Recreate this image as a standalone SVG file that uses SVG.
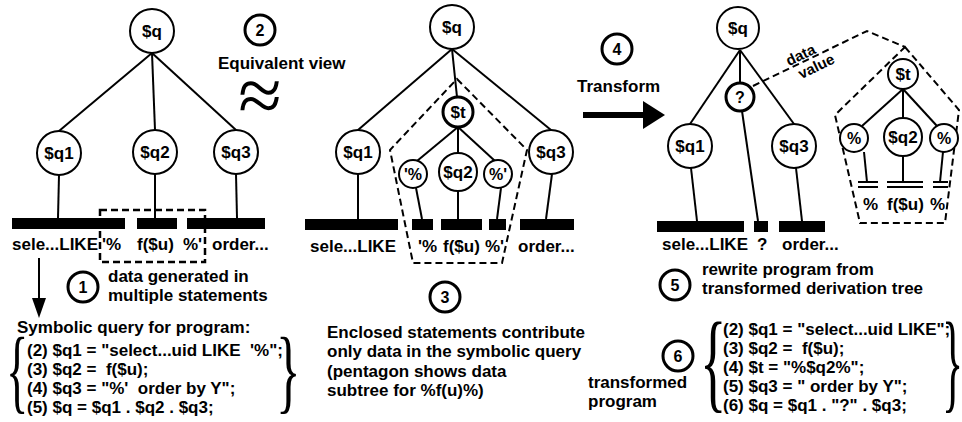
<svg xmlns="http://www.w3.org/2000/svg" width="962" height="422" viewBox="0 0 962 422">
<style>
text{font-family:"Liberation Sans",Arial,sans-serif;font-weight:bold;font-size:17px;fill:#000;white-space:pre}
.m{text-anchor:middle}
.n circle{fill:#fff;stroke:#000;stroke-width:2}
.k circle{stroke-width:3}
.s{font-size:16px}
#connectors line{stroke:#000;stroke-width:2;fill:none}
.d{fill:none;stroke:#000;stroke-width:2;stroke-dasharray:7 4}
.bar{fill:#000}
.br{font-family:"Liberation Serif","Times New Roman",serif;font-weight:normal}
.b1{font-size:93px}
.b2{font-size:110px}
.ap{font-size:66px}
.dv{font-size:15px}
</style>
<rect width="962" height="422" fill="#fff"/>

<g id="connectors">
<line x1="152" y1="53" x2="59" y2="131"/>
<line x1="152" y1="53" x2="155" y2="130"/>
<line x1="152" y1="53" x2="236" y2="130"/>
<line x1="59" y1="175" x2="58" y2="218"/>
<line x1="155" y1="174" x2="155" y2="218"/>
<line x1="236" y1="174" x2="237" y2="218"/>
<line x1="452" y1="49" x2="358" y2="130"/>
<line x1="452" y1="49" x2="457" y2="97"/>
<line x1="452" y1="49" x2="551" y2="130"/>
<line x1="458" y1="127" x2="417" y2="161"/>
<line x1="458" y1="127" x2="458" y2="153"/>
<line x1="458" y1="127" x2="495" y2="161"/>
<line x1="358" y1="174" x2="358" y2="219"/>
<line x1="416" y1="188" x2="422" y2="219"/>
<line x1="458" y1="191" x2="458" y2="219"/>
<line x1="501" y1="188" x2="497" y2="219"/>
<line x1="552" y1="174" x2="546" y2="219"/>
<line x1="740" y1="50" x2="690" y2="124"/>
<line x1="740" y1="50" x2="740" y2="83"/>
<line x1="740" y1="50" x2="794" y2="124"/>
<line x1="691" y1="168" x2="697" y2="221"/>
<line x1="742" y1="111" x2="758" y2="221"/>
<line x1="796" y1="168" x2="802" y2="221"/>
<line x1="903" y1="89" x2="862" y2="126"/>
<line x1="903" y1="89" x2="903" y2="118"/>
<line x1="903" y1="89" x2="937" y2="126"/>
<line x1="864" y1="152" x2="867" y2="182"/>
<line x1="903" y1="156" x2="903" y2="182"/>
<line x1="943" y1="152" x2="940" y2="182"/>
<line x1="858" y1="182" x2="878" y2="182"/>
<line x1="858" y1="187" x2="878" y2="187"/>
<line x1="887" y1="182" x2="923" y2="182"/>
<line x1="887" y1="187" x2="923" y2="187"/>
<line x1="933" y1="182" x2="948" y2="182"/>
<line x1="933" y1="187" x2="948" y2="187"/>
<line x1="39" y1="258" x2="39" y2="300"/>
<line x1="583" y1="115" x2="645" y2="115" style="stroke-width:6"/>
</g>
<polygon points="32,298 46,298 39,318" fill="#000"/>
<polygon points="643,101 665,115 643,129" fill="#000"/>

<rect x="100" y="210" width="105" height="52" class="d" style="stroke-width:2.5"/>
<polygon points="457,79 527,150 502,263 413,263 390,150" class="d"/>
<polyline points="753,86 867,31 905,47" class="d"/>
<polygon points="905,47 959,110 945,223 860,223 835,115" class="d"/>

<g id="bars">
<rect class="bar" x="12" y="218" width="113" height="11"/>
<rect class="bar" x="137" y="218" width="40" height="11"/>
<rect class="bar" x="187" y="218" width="78" height="11"/>
<rect class="bar" x="305" y="219" width="93" height="11"/>
<rect class="bar" x="412" y="219" width="21" height="11"/>
<rect class="bar" x="441" y="219" width="41" height="11"/>
<rect class="bar" x="489" y="219" width="17" height="11"/>
<rect class="bar" x="520" y="219" width="54" height="11"/>
<rect class="bar" x="657" y="221" width="87" height="11"/>
<rect class="bar" x="754" y="221" width="14" height="11"/>
<rect class="bar" x="779" y="221" width="46" height="11"/>
</g>

<g id="p1-q" class="n"><circle cx="152" cy="31" r="22"/><text class="m" x="152" y="37">$q</text></g>
<g id="p1-q1" class="n"><circle cx="59" cy="153" r="22"/><text class="m" x="59" y="159">$q1</text></g>
<g id="p1-q2" class="n"><circle cx="155" cy="152" r="22"/><text class="m" x="155" y="158">$q2</text></g>
<g id="p1-q3" class="n"><circle cx="236" cy="152" r="22"/><text class="m" x="236" y="158">$q3</text></g>

<g id="p2-q" class="n"><circle cx="452" cy="27" r="22"/><text class="m" x="452" y="33">$q</text></g>
<g id="p2-t" class="n k"><circle cx="458" cy="112" r="15"/><text class="m" x="458" y="118">$t</text></g>
<g id="p2-q1" class="n"><circle cx="358" cy="152" r="22"/><text class="m" x="358" y="158">$q1</text></g>
<g id="p2-q3" class="n"><circle cx="551" cy="152" r="22"/><text class="m" x="551" y="158">$q3</text></g>
<g id="p2-pa" class="n"><circle cx="413" cy="174" r="14"/><text class="m s" x="413" y="180">'%</text></g>
<g id="p2-q2" class="n"><circle cx="458" cy="172" r="19"/><text class="m" x="458" y="178">$q2</text></g>
<g id="p2-pb" class="n"><circle cx="498" cy="174" r="14"/><text class="m s" x="498" y="180">%'</text></g>

<g id="p3-q" class="n"><circle cx="738" cy="28" r="21"/><text class="m" x="738" y="34">$q</text></g>
<g id="p3-x" class="n k"><circle cx="740" cy="97" r="14"/><text class="m s" x="740" y="103">?</text></g>
<g id="p3-q1" class="n"><circle cx="690" cy="146" r="22"/><text class="m" x="690" y="152">$q1</text></g>
<g id="p3-q3" class="n"><circle cx="794" cy="146" r="22"/><text class="m" x="794" y="152">$q3</text></g>
<g id="p3-t" class="n"><circle cx="903" cy="74" r="15"/><text class="m" x="903" y="80">$t</text></g>
<g id="p3-pa" class="n"><circle cx="854" cy="138" r="14"/><text class="m s" x="854" y="144">%</text></g>
<g id="p3-q2" class="n"><circle cx="903" cy="137" r="19"/><text class="m" x="903" y="143">$q2</text></g>
<g id="p3-pb" class="n"><circle cx="944" cy="138" r="14"/><text class="m s" x="944" y="144">%</text></g>

<g id="m1" class="n k"><circle cx="83" cy="287" r="15"/><text class="m s" x="83" y="293">1</text></g>
<g id="m2" class="n k"><circle cx="260" cy="30" r="15"/><text class="m s" x="260" y="36">2</text></g>
<g id="m3" class="n k"><circle cx="445" cy="297" r="15"/><text class="m s" x="445" y="303">3</text></g>
<g id="m4" class="n k"><circle cx="617" cy="49" r="15"/><text class="m s" x="617" y="55">4</text></g>
<g id="m5" class="n k"><circle cx="675" cy="285" r="15"/><text class="m s" x="675" y="291">5</text></g>
<g id="m6" class="n k"><circle cx="678" cy="356" r="15"/><text class="m s" x="678" y="362">6</text></g>

<text x="12" y="250">sele...LIKE</text>
<text x="102" y="250">'%</text>
<text x="137" y="250">f($u)</text>
<text x="183" y="250">%'</text>
<text x="212" y="250">order...</text>

<text x="310" y="252">sele...LIKE</text>
<text x="418" y="252">'%</text>
<text x="443" y="252">f($u)</text>
<text x="485" y="252">%'</text>
<text x="518" y="252">order...</text>

<text x="662" y="250">sele...LIKE</text>
<text x="757" y="250">?</text>
<text x="782" y="250">order...</text>

<text x="863" y="210">%</text>
<text x="887" y="210">f($u)</text>
<text x="930" y="210">%</text>

<text x="218" y="69">Equivalent view</text>
<text class="br ap m" transform="translate(260 122) scale(1.2 1.2)">≈</text>
<text x="577" y="92">Transform</text>
<g transform="translate(807 61) rotate(-25.8)">
<text class="m dv" x="-3" y="-3">data</text>
<text class="m dv" x="6" y="14">value</text>
</g>

<text x="108" y="282">data generated in</text>
<text x="108" y="301">multiple statements</text>

<text x="17" y="333">Symbolic query for program:</text>
<text x="27" y="356">(2) $q1 = "select...uid LIKE  '%";</text>
<text x="27" y="375">(3) $q2 =  f($u);</text>
<text x="27" y="394">(4) $q3 = "%'  order by Y";</text>
<text x="27" y="413">(5) $q = $q1 . $q2 . $q3;</text>
<text class="br b1" transform="translate(6 402) scale(0.5 1)">{</text>
<text class="br b1" transform="translate(276 402) scale(0.55 1)">}</text>

<text x="327" y="338">Enclosed statements contribute</text>
<text x="327" y="357">only data in the symbolic query</text>
<text x="327" y="377">(pentagon shows data</text>
<text x="327" y="396">subtree for %f(u)%)</text>

<text x="702" y="275">rewrite program from</text>
<text x="702" y="294">transformed derivation tree</text>

<text x="588" y="388">transformed</text>
<text x="588" y="407">program</text>
<text x="723" y="335">(2) $q1 = "select...uid LIKE";</text>
<text x="723" y="354">(3) $q2 =  f($u);</text>
<text x="723" y="373">(4) $t = "%$q2%";</text>
<text x="723" y="392">(5) $q3 = " order by Y";</text>
<text x="723" y="411">(6) $q = $q1 . "?" . $q3;</text>
<text class="br b2" transform="translate(700 398) scale(0.5 1)">{</text>
<text class="br b2" transform="translate(942 398) scale(0.4 1)">}</text>
</svg>
